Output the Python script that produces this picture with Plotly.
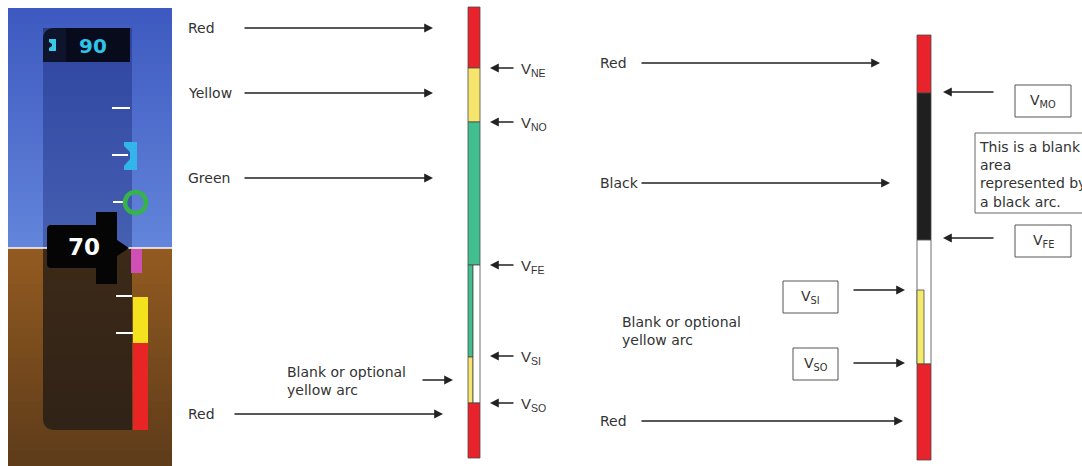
import plotly.graph_objects as go

# ---------------- data ----------------
# Middle (single-engine) airspeed indicator arcs: top, bottom (px), color, part
mid_tops = [7, 68, 122, 265, 357, 265, 403]
mid_bots = [68, 122, 265, 357, 403, 403, 458]
mid_colors = ["#e8232b", "#f6e46c", "#41bf90", "#41bf90", "#f6e46c", "#ffffff", "#e8232b"]
mid_parts = ["full", "full", "full", "left", "left", "right", "full"]

# Right (turbine) airspeed indicator arcs
rt_tops = [35, 93, 240, 290, 364]
rt_bots = [93, 240, 364, 364, 460]
rt_colors = ["#e8232b", "#1f1f1f", "#ffffff", "#f4ea6c", "#e8232b"]
rt_parts = ["full", "full", "full", "left", "full"]

# Left colour labels of middle indicator
mid_left_labels = ["Red", "Yellow", "Green", "Red"]
mid_left_y = [28, 93, 178, 414]
mid_left_arrow_tail = [243, 243, 243, 233]
mid_left_arrow_tip = [433, 433, 433, 443]

# V-speed labels on middle indicator
mid_v_subs = ["NE", "NO", "FE", "SI", "SO"]
mid_v_y = [68, 122, 265, 356, 403]

# Right indicator labels
rt_left_labels = ["Red", "Black", "Red"]
rt_left_y = [63, 183, 421]
rt_left_tip = [880, 890, 903]
rt_box_subs = ["MO", "FE"]
rt_box_y = [101, 241]
rt_box_arrow_y = [92, 238]
rt_lbox_subs = ["SI", "SO"]
rt_lbox_y = [297, 364]
rt_lbox_arrow_y = [290, 363]

# PFD speed tape values
pfd_selected = "90"
pfd_current = "70"
pfd_tick_y = [108, 155, 202, 296, 333]

# ---------------- figure ----------------
fig = go.Figure()

# PFD sky / ground gradient background (heatmap)
y_edges = [8 + (248 - 8) * i / 30 for i in range(31)] + [248 + (466 - 248) * i / 30 for i in range(1, 31)]
zvals = [[0.49 * i / 29] for i in range(30)] + [[0.51 + 0.49 * i / 29] for i in range(30)]
fig.add_trace(go.Heatmap(
    x=[8, 172], y=y_edges, z=zvals, showscale=False, hoverinfo="skip", zmin=0, zmax=1,
    colorscale=[[0, "rgb(62,90,192)"], [0.49, "rgb(98,132,218)"], [0.5, "rgb(98,132,218)"],
                [0.5001, "rgb(146,90,32)"], [0.51, "rgb(146,90,32)"], [1, "rgb(94,60,26)"]]))

LINE = "#4a4a4a"


def add_tape(tops, bots, colors, parts, x0, x1, split):
    for t, b, c, p in zip(tops, bots, colors, parts):
        if p == "full":
            a, z = x0, x1
        elif p == "left":
            a, z = x0, split
        else:
            a, z = split, x1
        fig.add_trace(go.Bar(
            x=[(a + z) / 2], y=[b - t], base=[t], width=[z - a],
            marker=dict(color=c, line=dict(color=LINE, width=0.8)),
            hoverinfo="skip"))


add_tape(mid_tops, mid_bots, mid_colors, mid_parts, 468, 480, 473)
add_tape(rt_tops, rt_bots, rt_colors, rt_parts, 917, 931, 924)

shapes = []
annots = []
LBL = dict(family="DejaVu Sans", size=14, color="#333333")
VF = dict(family="Liberation Sans, Arial", size=15, color="#333333")


def arrow(tip_x, tail_x, y, w=1.6):
    annots.append(dict(x=tip_x, y=y, ax=tail_x, ay=y, xref="x", yref="y",
                       axref="x", ayref="y", text="", showarrow=True,
                       arrowhead=2, arrowsize=1.1, arrowwidth=w,
                       arrowcolor="#222222", standoff=0, startstandoff=0))


def label(x, y, txt, font=LBL, xanchor="left", align="left"):
    annots.append(dict(x=x, y=y, xref="x", yref="y", text=txt, showarrow=False,
                       xanchor=xanchor, yanchor="middle", font=font, align=align))


# Middle panel labels
for t, y, a0, a1 in zip(mid_left_labels, mid_left_y, mid_left_arrow_tail, mid_left_arrow_tip):
    label(186, y, t)
    arrow(a1, a0, y)
label(285, 381, "Blank or optional<br>yellow arc")
arrow(453, 421, 380)
for s, y in zip(mid_v_subs, mid_v_y):
    arrow(490, 515, y)
    label(519, y + 1, "V<sub>%s</sub>" % s, font=VF)

# Right panel labels
for t, y, tip in zip(rt_left_labels, rt_left_y, rt_left_tip):
    label(598, y, t)
    arrow(tip, 640, y)
label(620, 331, "Blank or optional<br>yellow arc")
for s, yb, ya in zip(rt_box_subs, rt_box_y, rt_box_arrow_y):
    arrow(943, 995, ya)
    shapes.append(dict(type="rect", x0=1015, x1=1071, y0=yb - 16, y1=yb + 16,
                       line=dict(color="#555", width=1), fillcolor="white"))
    label(1043, yb, "V<sub>%s</sub>" % s, font=LBL, xanchor="center")
for s, yb, ya in zip(rt_lbox_subs, rt_lbox_y, rt_lbox_arrow_y):
    arrow(905, 852, ya)
    x0 = 783 if s == "SI" else 793
    shapes.append(dict(type="rect", x0=x0, x1=838, y0=yb - 16, y1=yb + 16,
                       line=dict(color="#555", width=1), fillcolor="white"))
    label((x0 + 838) / 2, yb, "V<sub>%s</sub>" % s, font=LBL, xanchor="center")
shapes.append(dict(type="rect", x0=975, x1=1095, y0=133, y1=213,
                   line=dict(color="#666", width=1), fillcolor="white"))
label(977, 174, "This is a blank<br>area<br>represented by<br>a black arc.",
      font=dict(family="DejaVu Sans", size=14, color="#333333"))

# ---------------- PFD panel ----------------
# tape overlay (sky part / ground part)
shapes.append(dict(type="path", layer="above", line_width=0,
                   path="M 43 40 Q 43 28 55 28 L 132 28 L 132 248 L 43 248 Z",
                   fillcolor="rgba(10,20,90,0.32)"))
shapes.append(dict(type="path", layer="above", line_width=0,
                   path="M 43 248 L 132 248 L 132 430 L 55 430 Q 43 430 43 418 Z",
                   fillcolor="rgba(28,24,22,0.72)"))
# top readout box
shapes.append(dict(type="path", layer="above", line_width=0,
                   path="M 43 40 Q 43 28 55 28 L 130 28 L 130 62 L 43 62 Z",
                   fillcolor="rgba(5,8,20,0.95)"))
shapes.append(dict(type="rect", layer="above", line_width=0, x0=43, x1=66, y0=28, y1=62,
                   fillcolor="rgba(20,30,60,0.5)"))
# small cyan glyph
shapes.append(dict(type="path", layer="above", line_width=0,
                   path="M 49 39 L 56 39 L 56 51 L 49 51 L 49 48 L 52 46 L 52 44 L 49 42 Z",
                   fillcolor="#38c8e8"))
annots.append(dict(x=93, y=46, xref="x", yref="y", text="<b>%s</b>" % pfd_selected, showarrow=False,
                   font=dict(family="DejaVu Sans", size=20, color="#2fc3ea"),
                   xanchor="center", yanchor="middle"))
# ticks
tick_x = [(112, 130), (112, 128), (113, 125), (116, 132), (116, 133)]
for y, (a, b) in zip(pfd_tick_y, tick_x):
    shapes.append(dict(type="line", layer="above", x0=a, x1=b, y0=y, y1=y,
                       line=dict(color="white", width=2)))
# cyan bug
shapes.append(dict(type="path", layer="above", line_width=0,
                   path="M 124 142 L 137 142 L 137 170 L 124 170 L 124 166 L 130 159 L 130 152 L 124 146 Z",
                   fillcolor="#33b4ea"))
# green circle
shapes.append(dict(type="circle", layer="above", x0=125, x1=146, y0=192, y1=213,
                   line=dict(color="#36b34a", width=4.5)))
# horizon line
shapes.append(dict(type="line", layer="above", x0=8, x1=172, y0=248, y1=248,
                   line=dict(color="white", width=1.5)))
# magenta trend, yellow and red bands
shapes.append(dict(type="rect", layer="above", line_width=0, x0=131, x1=142, y0=249, y1=273,
                   fillcolor="#d04fb4"))
shapes.append(dict(type="rect", layer="above", line_width=0, x0=133, x1=148, y0=297, y1=343,
                   fillcolor="#f5e21e"))
shapes.append(dict(type="rect", layer="above", line_width=0, x0=133, x1=148, y0=343, y1=430,
                   fillcolor="#e82424"))
# current speed pointer
shapes.append(dict(type="path", layer="above", line_width=0,
                   path="M 51 225 L 96 225 L 96 212 L 117 212 L 117 240 L 129 248 L 117 256 "
                        "L 117 284 L 96 284 L 96 268 L 51 268 Q 47 268 47 264 L 47 229 Q 47 225 51 225 Z",
                   fillcolor="#050505"))
annots.append(dict(x=84, y=247, xref="x", yref="y", text="<b>%s</b>" % pfd_current,
                   showarrow=False, font=dict(family="DejaVu Sans", size=23, color="white"),
                   xanchor="center", yanchor="middle"))

fig.update_layout(
    width=1082, height=466, margin=dict(l=0, r=0, t=0, b=0),
    paper_bgcolor="white", plot_bgcolor="white", showlegend=False,
    barmode="overlay", bargap=0,
    xaxis=dict(range=[0, 1082], visible=False, fixedrange=True),
    yaxis=dict(range=[466, 0], visible=False, fixedrange=True),
    shapes=shapes, annotations=annots,
)

fig.write_html("out.html", config={"displayModeBar": False, "staticPlot": True},
               post_script="document.body.style.margin='0';document.body.style.overflow='hidden';")
